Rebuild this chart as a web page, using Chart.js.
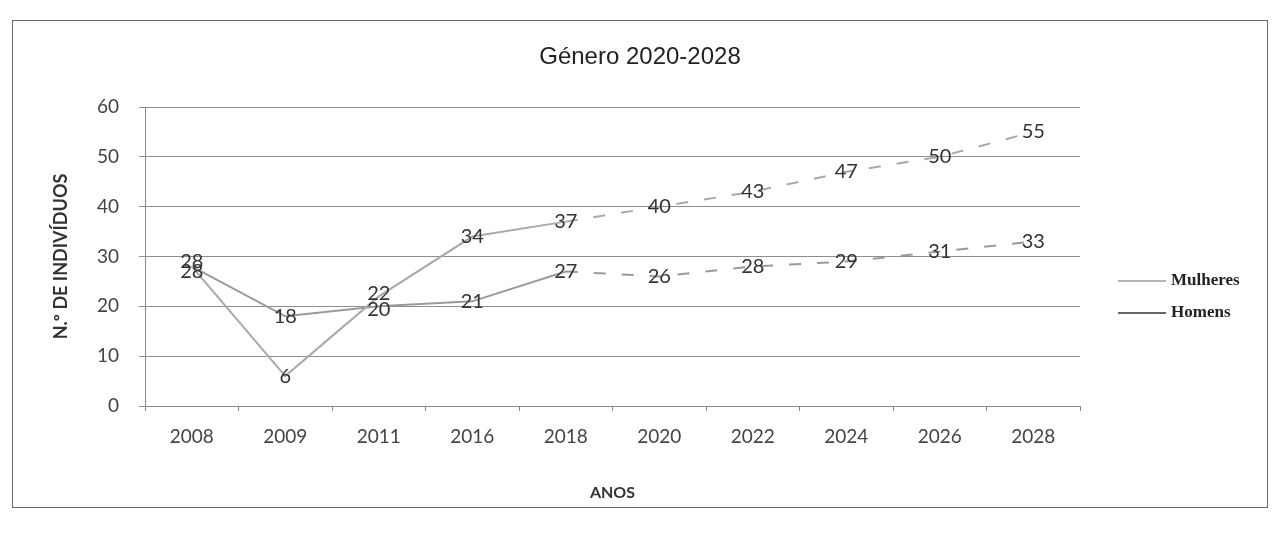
<!DOCTYPE html>
<html>
<head>
<meta charset="utf-8">
<script src="https://cdn.jsdelivr.net/npm/chart.js@4.4.1/dist/chart.umd.min.js"></script>
<style>
  html, body { margin: 0; padding: 0; background: #ffffff; }
  #wrap { width: 1277px; height: 538px; position: relative; }
</style>
</head>
<body>
<div id="wrap"><canvas id="c" width="1277" height="538"></canvas></div>
<script>
// ---- data ----
const categories = ['2008', '2009', '2011', '2016', '2018', '2020', '2022', '2024', '2026', '2028'];
const mulheres = [28, 6, 22, 34, 37, 40, 43, 47, 50, 55];
const homens   = [28, 18, 20, 21, 27, 26, 28, 29, 31, 33];
const seriesNames = ['Mulheres', 'Homens'];
const yTicks = [0, 10, 20, 30, 40, 50, 60];
const chartTitle = 'Género 2020-2028';
const xTitle = 'ANOS';
const yTitle = 'N.º DE INDIVÍDUOS';

// ---- styles ----
const lineColors = ['#a9a9a9', '#9a9a9a'];
const legendColors = ['#9c9c9c', '#333333'];
const labelShift = [[-5, 0, -3, 0, 0, 0, 0, 0, 0, 0], [5, 0, 3, 0, 0, 0, 0, 0, 0, 0]];

const framePlugin = {
  id: 'frame',
  beforeDraw(chart) {
    const ctx = chart.ctx;
    ctx.save();
    ctx.fillStyle = '#ffffff';
    ctx.fillRect(0, 0, chart.width, chart.height);
    ctx.strokeStyle = '#666666';
    ctx.lineWidth = 1;
    ctx.strokeRect(12.5, 20.5, 1255, 487);
    ctx.restore();
  },
  afterDraw(chart) {
    const ctx = chart.ctx;
    ctx.save();
    ctx.font = '24px "Liberation Sans", Arial, sans-serif';
    ctx.fillStyle = '#222222';
    ctx.textAlign = 'center';
    ctx.textBaseline = 'middle';
    ctx.fillText(chartTitle, 640, 57);
    ctx.restore();
  }
};

const labelPlugin = {
  id: 'valueLabels',
  afterDatasetsDraw(chart) {
    const ctx = chart.ctx;
    ctx.save();
    ctx.font = '20px Lato, "Open Sans", sans-serif';
    ctx.fillStyle = '#333333';
    ctx.textAlign = 'center';
    ctx.textBaseline = 'middle';
    chart.data.datasets.forEach((ds, di) => {
      const meta = chart.getDatasetMeta(di);
      meta.data.forEach((pt, i) => {
        ctx.fillText(String(ds.data[i]), pt.x, pt.y + labelShift[di][i]);
      });
    });
    ctx.restore();
  }
};

const legendPlugin = {
  id: 'sideLegend',
  afterDraw(chart) {
    const ctx = chart.ctx;
    ctx.save();
    ctx.font = 'bold 17px "Liberation Serif", "DejaVu Serif", serif';
    ctx.textBaseline = 'middle';
    ctx.textAlign = 'left';
    const x0 = 1118, x1 = 1166, ys = [281, 313];
    chart.data.datasets.forEach((ds, di) => {
      ctx.strokeStyle = legendColors[di];
      ctx.lineWidth = 1.5;
      ctx.beginPath();
      ctx.moveTo(x0, ys[di]);
      ctx.lineTo(x1, ys[di]);
      ctx.stroke();
      ctx.fillStyle = '#222222';
      ctx.fillText(ds.label, x1 + 5, ys[di]);
    });
    ctx.restore();
  }
};

const dashAfter = ctx => (ctx.p0DataIndex >= 4 ? [12, 16] : undefined);

new Chart(document.getElementById('c'), {
  type: 'line',
  data: {
    labels: categories,
    datasets: [
      { label: seriesNames[0], data: mulheres, borderColor: lineColors[0], borderWidth: 2, pointRadius: 0, tension: 0, segment: { borderDash: dashAfter } },
      { label: seriesNames[1], data: homens, borderColor: lineColors[1], borderWidth: 2, pointRadius: 0, tension: 0, segment: { borderDash: dashAfter } }
    ]
  },
  options: {
    responsive: false,
    animation: false,
    layout: { padding: { left: 50, top: 107, right: 197, bottom: 36 } },
    plugins: {
      legend: { display: false },
      tooltip: { enabled: false },
      title: { display: false }
    },
    scales: {
      x: {
        offset: true,
        grid: { display: true, drawOnChartArea: false, drawTicks: true, tickLength: 5, color: '#888888', offset: true },
        border: { color: '#888888' },
        ticks: { padding: 14, color: '#444444', font: { family: 'Lato, "Open Sans", sans-serif', size: 19 } },
        title: { display: true, text: xTitle, color: '#333333', font: { family: 'Lato, "Open Sans", sans-serif', size: 16, weight: 'bold' }, padding: { top: 0, bottom: 0 } },
        afterFit(s) { s.height = 96; }
      },
      y: {
        min: 0, max: 60,
        afterBuildTicks(s) { s.ticks = yTicks.map(v => ({ value: v })); },
        grid: { color: '#8f8f8f', tickLength: 6, drawTicks: true },
        border: { color: '#888888' },
        ticks: { padding: 20, color: '#444444', font: { family: 'Lato, "Open Sans", sans-serif', size: 19 } },
        title: { display: true, text: yTitle, color: '#333333', font: { family: 'Lato, "Open Sans", sans-serif', size: 18, weight: 'bold' }, padding: { top: 0, bottom: 0 } },
        afterFit(s) { s.width = 95; }
      }
    }
  },
  plugins: [framePlugin, labelPlugin, legendPlugin]
});
</script>
</body>
</html>
